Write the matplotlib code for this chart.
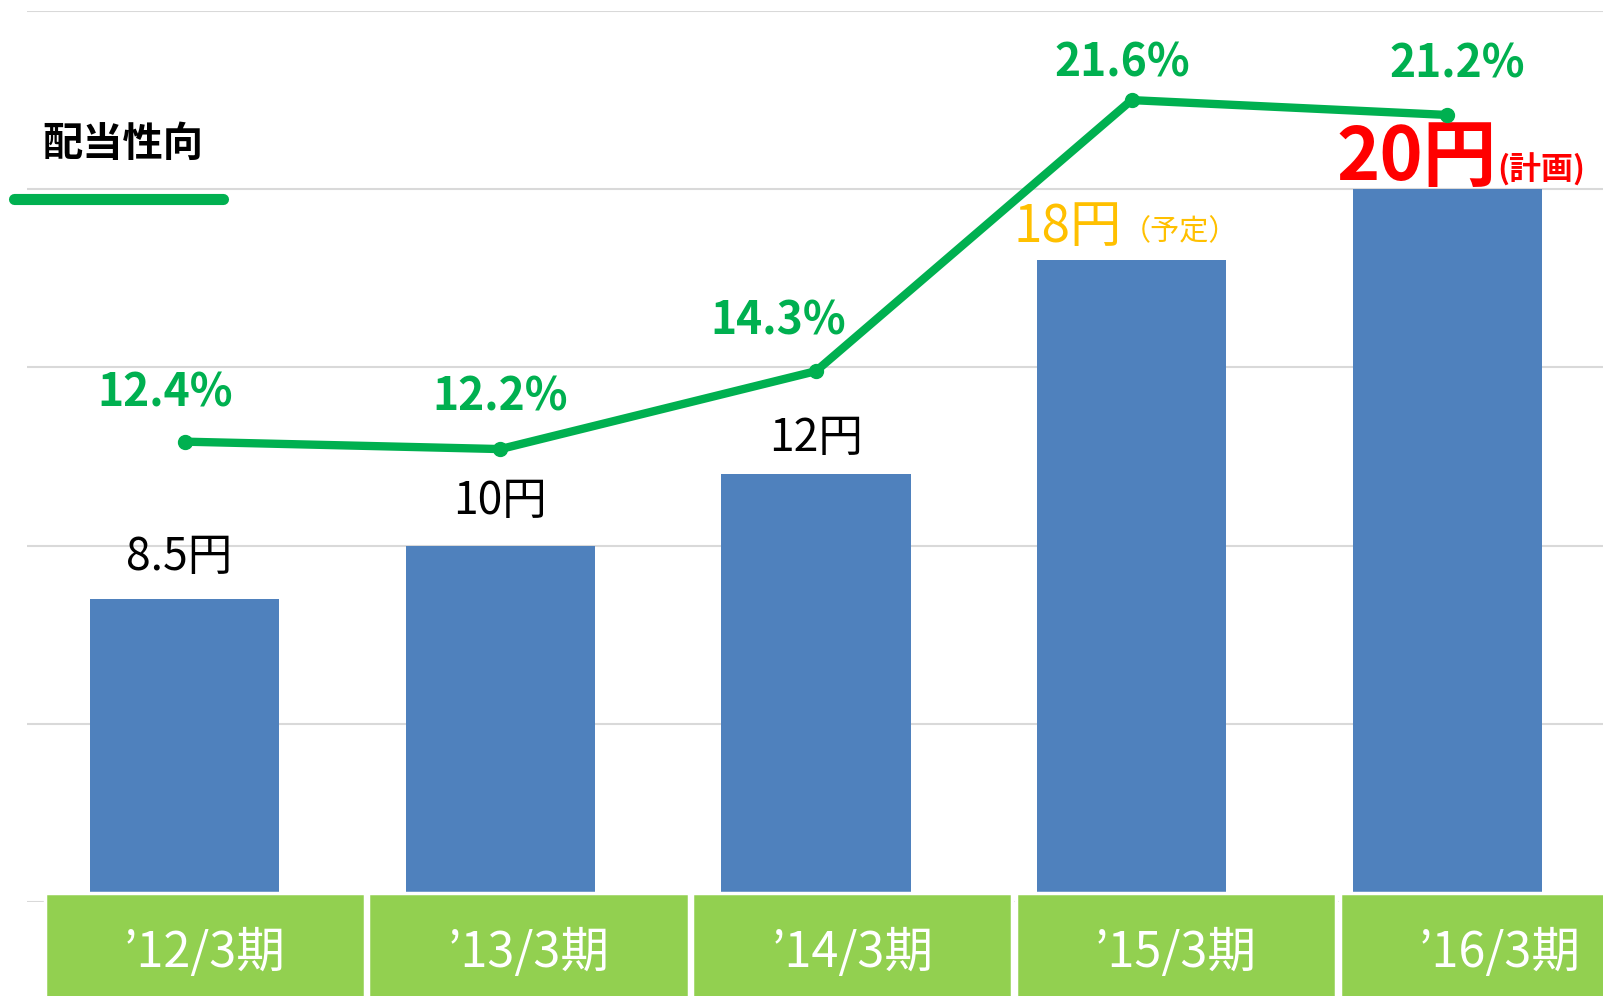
import matplotlib
matplotlib.use('Agg')
import matplotlib.pyplot as plt
from matplotlib.patches import Rectangle

plt.rcParams['font.family'] = ['Noto Sans CJK JP', 'DejaVu Sans']

# 配当金と配当性向
categories = ['’12/3期', '’13/3期', '’14/3期', '’15/3期', '’16/3期']
dividends = [8.5, 10, 12, 18, 20]
dividend_labels = ['8.5円', '10円', '12円', '18円', '20円']
dividend_notes = ['', '', '', '（予定）', '(計画)']
payout_ratio = [12.4, 12.2, 14.3, 21.6, 21.2]

BAR_COLOR = '#4F81BD'
LINE_COLOR = '#00B050'
BOX_COLOR = '#92D050'
GRID_COLOR = '#D9D9D9'

# label styling per bar (offsets in points)
yen_colors = ['black', 'black', 'black', '#FFC000', '#FF0000']
yen_sizes = [32, 32, 32, 37, 53]
yen_weights = ['normal', 'normal', 'normal', 'normal', 'bold']
yen_offsets = [(-4, 30), (0, 32), (0, 26), (-46, 24), (-22, 22)]
note_sizes = [0, 0, 0, 21, 23]
pct_offsets = [(-14, 35), (0, 37), (-27, 36), (-7, 26), (7, 36)]

fig = plt.figure(figsize=(16.03, 9.96), dpi=100)
ax = fig.add_axes([27 / 1603, 94 / 996, 1578 / 1603, 891 / 996])

x = list(range(len(categories)))
ax.bar(x, dividends, width=0.6, color=BAR_COLOR, zorder=2)
ax.set_xlim(-0.5, len(categories) - 0.5)
ax.set_ylim(0, 25)
ax.set_yticks([0, 5, 10, 15, 20, 25])
ax.yaxis.grid(True, color=GRID_COLOR, linewidth=1.5, zorder=0)
ax.set_axisbelow(True)
for s in ax.spines.values():
    s.set_visible(False)

# category boxes under the bars
for i, cat in enumerate(categories):
    left = -0.444 + i * 1.0257
    ax.add_patch(Rectangle((left, -2.7), 1.0146, 2.95, facecolor=BOX_COLOR,
                           edgecolor='white', linewidth=2.5, clip_on=False, zorder=3))
    ax.text(left + 1.0146 / 2, -1.45, cat, color='white', fontsize=35,
            ha='center', va='center', zorder=4, clip_on=False)

# yen labels
for i, v in enumerate(dividends):
    t = ax.annotate(dividend_labels[i], xy=(i, v), xytext=yen_offsets[i],
                    textcoords='offset points', ha='center', va='center',
                    fontsize=yen_sizes[i], color=yen_colors[i],
                    fontweight=yen_weights[i], zorder=5)
    if dividend_notes[i]:
        ax.annotate(dividend_notes[i], xy=(1.0, 0.12), xycoords=t,
                    ha='left', va='bottom', fontsize=note_sizes[i],
                    color=yen_colors[i], fontweight=yen_weights[i], zorder=5)

# payout ratio line
ax2 = ax.twinx()
ax2.set_ylim(0, 24)
ax2.axis('off')
ax2.plot(x, payout_ratio, color=LINE_COLOR, linewidth=6, marker='o',
         markersize=10, solid_capstyle='round', zorder=6)
for i, v in enumerate(payout_ratio):
    ax2.annotate(f'{v}%', xy=(i, v), xytext=pct_offsets[i],
                 textcoords='offset points', ha='center', va='center',
                 fontsize=32, color=LINE_COLOR, fontweight='bold')
ax.tick_params(left=False, right=False, bottom=False,
               labelleft=False, labelbottom=False, length=0)

# legend
fig.text(123 / 1603, 1 - 144 / 996, '配当性向', fontsize=29, fontweight='bold',
         ha='center', va='center')
fig.add_artist(plt.Line2D([14 / 1603, 223 / 1603], [1 - 199 / 996, 1 - 199 / 996],
                          color=LINE_COLOR, linewidth=8, solid_capstyle='round'))

fig.savefig('out.png', dpi=100)
